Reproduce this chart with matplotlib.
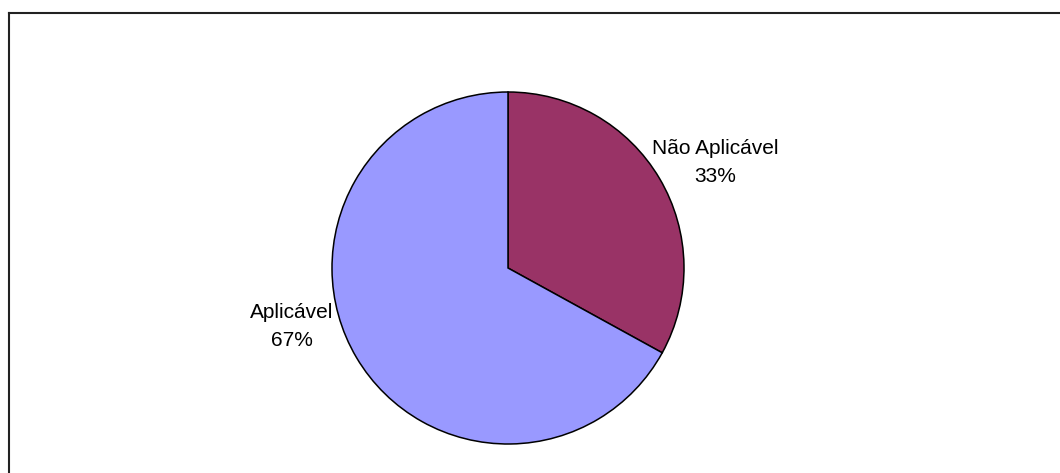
import matplotlib.pyplot as plt
from matplotlib.lines import Line2D

labels = ["Não Aplicável", "Aplicável"]
values = [33, 67]
colors = ["#993366", "#9999FF"]
# label block centres, in pie-radius units
label_pos = [(1.18, 0.60), (-1.23, -0.33)]

W, H = 1060, 473
fig = plt.figure(figsize=(W / 100, H / 100), dpi=100)
fig.patch.set_facecolor("white")

# pie centred at (508, 268) px with radius ~176 px
cx, cy, r = 508 / W, 1 - 268 / H, 176
ax = fig.add_axes([cx - r / W, cy - r / H, 2 * r / W, 2 * r / H])

wedges, _ = ax.pie(
    values,
    colors=colors,
    startangle=90,
    counterclock=False,
    wedgeprops=dict(edgecolor="black", linewidth=1.1),
)
ax.set_xlim(-1, 1)
ax.set_ylim(-1, 1)
ax.set_aspect("equal")
ax.axis("off")

total = sum(values)
for lab, v, (x, y) in zip(labels, values, label_pos):
    ax.text(x, y, f"{lab}\n{round(100 * v / total)}%", ha="center", va="center",
            fontsize=15, family="Liberation Sans", linespacing=1.6, color="black")

# top and left frame lines of the chart area
top = 1 - 13 / H
left = 9 / W
fig.add_artist(Line2D([left, 1], [top, top], color="#222222", linewidth=1.5,
                      transform=fig.transFigure))
fig.add_artist(Line2D([left, left], [0, top], color="#222222", linewidth=1.5,
                      transform=fig.transFigure))

fig.savefig("out.png", dpi=100)
